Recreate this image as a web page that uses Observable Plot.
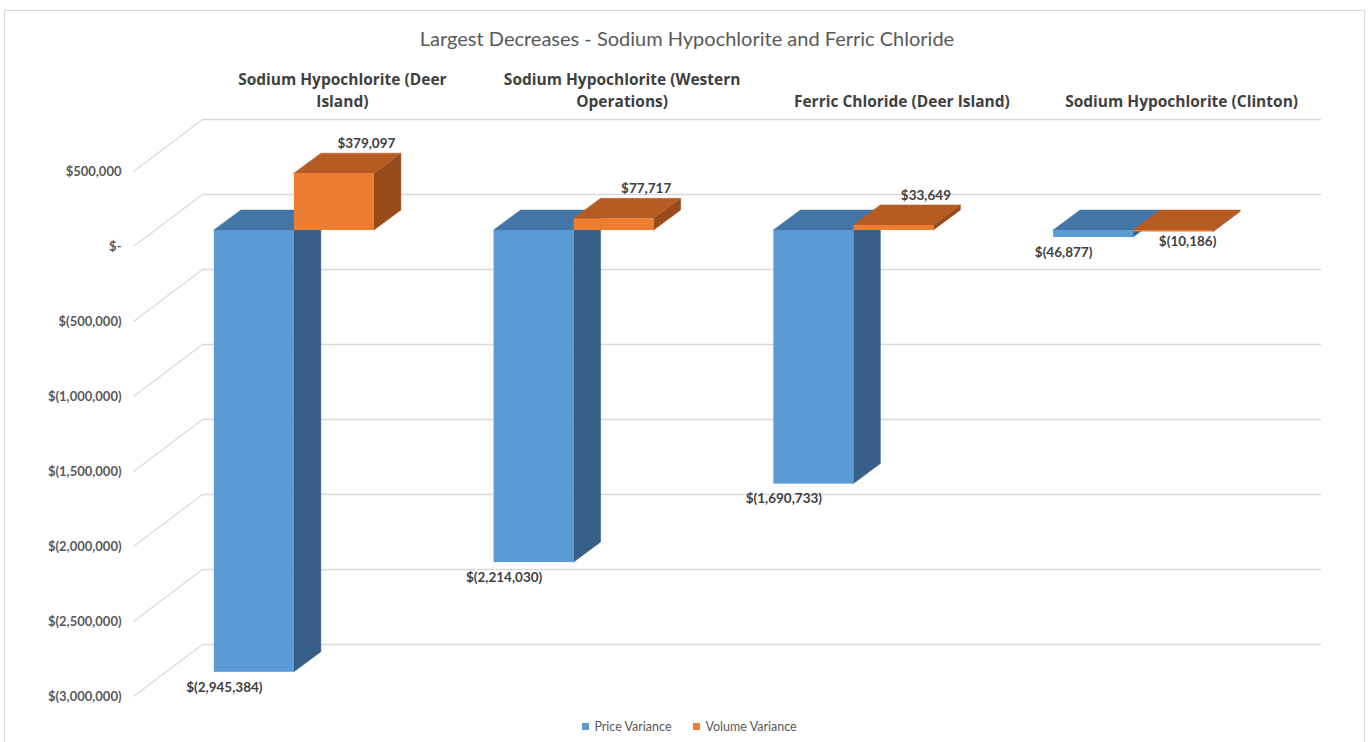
<!DOCTYPE html>
<html><head><meta charset="utf-8">
<script src="https://cdn.jsdelivr.net/npm/d3@7"></script>
<script src="https://cdn.jsdelivr.net/npm/@observablehq/plot@0.6"></script>
<style>
html,body{margin:0;padding:0;background:#fff;overflow:hidden;width:1369px;height:742px;}
#frame{position:absolute;left:4px;top:10px;width:1359px;height:740px;border:1px solid #d9d9d9;}
#title{position:absolute;left:4px;width:1366px;top:26px;text-align:center;font-family:Lato,sans-serif;font-size:20px;color:#595959;line-height:24px;}
#chart{position:absolute;left:0;top:55px;}
#chart g[aria-label="category-labels"] text{letter-spacing:0.35px;}
#legend{position:absolute;left:0;width:1379px;top:719px;display:flex;justify-content:center;gap:22px;font-family:Lato,sans-serif;font-size:12.5px;color:#595959;line-height:16px;}
#legend span.sw{display:inline-block;width:7px;height:7px;margin-right:5px;vertical-align:1px;}
</style></head><body>
<div id="frame"></div>
<div id="title">Largest Decreases - Sodium Hypochlorite and Ferric Chloride</div>
<div id="chart"></div>
<div id="legend"></div>
<script>
// ---- data ----
const categories = [
  "Sodium Hypochlorite (Deer Island)",
  "Sodium Hypochlorite (Western Operations)",
  "Ferric Chloride (Deer Island)",
  "Sodium Hypochlorite (Clinton)"
];
const priceVariance = [-2945384, -2214030, -1690733, -46877];
const volumeVariance = [379097, 77717, 33649, -10186];
const seriesNames = ["Price Variance", "Volume Variance"];
const yTicks = [500000, 0, -500000, -1000000, -1500000, -2000000, -2500000, -3000000];
const yTickLabels = ["$500,000", "$-", "$(500,000)", "$(1,000,000)", "$(1,500,000)", "$(2,000,000)", "$(2,500,000)", "$(3,000,000)"];

// ---- styles / layout ----
const W = 1369, H = 665, ML = 154, MR = 96, MT = 100, MB = 40;
const yDomain = [-3000000, 500000];
const colors = {
  "Price Variance": {front: "#5B9BD5", top: "#4375A6", side: "#385F87"},
  "Volume Variance": {front: "#ED7D31", top: "#B65B22", side: "#984C1B"}
};
const BAR_W = 0.286;               // bar width in category units
const DEPTH_PX = [27, 20];         // bar depth offset (px)
const WALL_PX = [48, 36];          // back wall offset (px)
const DIAG_PX = [69, 52];          // floor diagonal length (px)
const pxPerX = (W - ML - MR) / 4;
const valPerPx = (yDomain[1] - yDomain[0]) / (H - MT - MB);
const dX = DEPTH_PX[0] / pxPerX, dY = DEPTH_PX[1] * valPerPx;

const fmt = v => v < 0 ? "$(" + d3.format(",")(-v) + ")" : "$" + d3.format(",")(v);

const bars = [];
categories.forEach((c, i) => {
  [priceVariance[i], volumeVariance[i]].forEach((v, s) => {
    const xl = i + 0.5 + (s - 1) * BAR_W;
    bars.push({key: c + s, series: seriesNames[s], cat: c, v, xl, xr: xl + BAR_W,
      top: Math.max(v, 0), bottom: Math.min(v, 0)});
  });
});
const sidePts = bars.flatMap(b => [
  {key: b.key, series: b.series, x: b.xr, y1: b.bottom, y2: b.top},
  {key: b.key, series: b.series, x: b.xr + dX, y1: b.bottom + dY, y2: b.top + dY}
]);
const topPts = bars.flatMap(b => [
  {key: b.key, series: b.series, y: b.top, x1: b.xl, x2: b.xr},
  {key: b.key, series: b.series, y: b.top + dY, x1: b.xl + dX, x2: b.xr + dX}
]);

function barMarks(series) {
  const c = colors[series];
  const f = d => d.series === series;
  return [
    Plot.areaY(sidePts.filter(f), {x: "x", y1: "y1", y2: "y2", z: "key", fill: c.side, stroke: c.side, strokeWidth: 0.5}),
    Plot.areaX(topPts.filter(f), {y: "y", x1: "x1", x2: "x2", z: "key", fill: c.top, stroke: c.top, strokeWidth: 0.5}),
    Plot.rect(bars.filter(f), {x1: "xl", x2: "xr", y1: "bottom", y2: "top", fill: c.front, inset: 0})
  ];
}

const ticks = yTicks.map((v, i) => ({v, label: yTickLabels[i]}));

const chart = Plot.plot({
  width: W, height: H,
  marginLeft: ML, marginRight: MR, marginTop: MT, marginBottom: MB,
  x: {domain: [0, 4], axis: null},
  y: {domain: yDomain, axis: null},
  style: {fontFamily: "Lato, sans-serif", background: "transparent", overflow: "visible"},
  marks: [
    Plot.ruleY(ticks, {y: "v", x1: 0, x2: 4, dx: WALL_PX[0], dy: -WALL_PX[1], stroke: "#d9d9d9", strokeWidth: 1.3}),
    Plot.link(ticks, {x1: 0, y1: "v", x2: -DIAG_PX[0] / pxPerX, y2: d => d.v - DIAG_PX[1] * valPerPx,
      dx: WALL_PX[0], dy: -WALL_PX[1], stroke: "#d9d9d9", strokeWidth: 1.2}),
    Plot.text(ticks, {x: 0, y: "v", text: "label", dx: WALL_PX[0] - DIAG_PX[0] - 12, dy: DIAG_PX[1] - WALL_PX[1],
      textAnchor: "end", fontSize: 13, fontWeight: "bold", fill: "#595959"}),
    Plot.text(categories, {x: (d, i) => i + 0.5, frameAnchor: "top", dx: WALL_PX[0], dy: -49,
      lineAnchor: "bottom", lineWidth: 15.5, lineHeight: 1.4, fontSize: 15.5, fontWeight: "bold",
      fontFamily: "'Open Sans', sans-serif", fill: "#404040", ariaLabel: "category-labels"}),
    ...barMarks("Price Variance"),
    ...barMarks("Volume Variance"),
    Plot.text(bars.filter(b => b.series === "Volume Variance" && b.v >= 0),
      {x: b => (b.xl + b.xr) / 2, y: "v", text: b => fmt(b.v), dx: 32, dy: -30, fontSize: 13.5, fontWeight: "bold", fill: "#404040"}),
    Plot.text(bars.filter(b => b.series === "Volume Variance" && b.v < 0),
      {x: b => (b.xl + b.xr) / 2, y: "v", text: b => fmt(b.v), dx: 14, dy: 10, fontSize: 13.5, fontWeight: "bold", fill: "#404040"}),
    Plot.text(bars.filter(b => b.series === "Price Variance" && b.v < 0),
      {x: "xl", y: "v", text: b => fmt(b.v), dx: 10, dy: 15, fontSize: 13.5, fontWeight: "bold", fill: "#404040"})
  ]
});
document.getElementById("chart").appendChild(chart);

const legend = document.getElementById("legend");
seriesNames.forEach(s => {
  const item = document.createElement("div");
  item.innerHTML = `<span class="sw" style="background:${colors[s].front}"></span>${s}`;
  legend.appendChild(item);
});
</script>
</body></html>
